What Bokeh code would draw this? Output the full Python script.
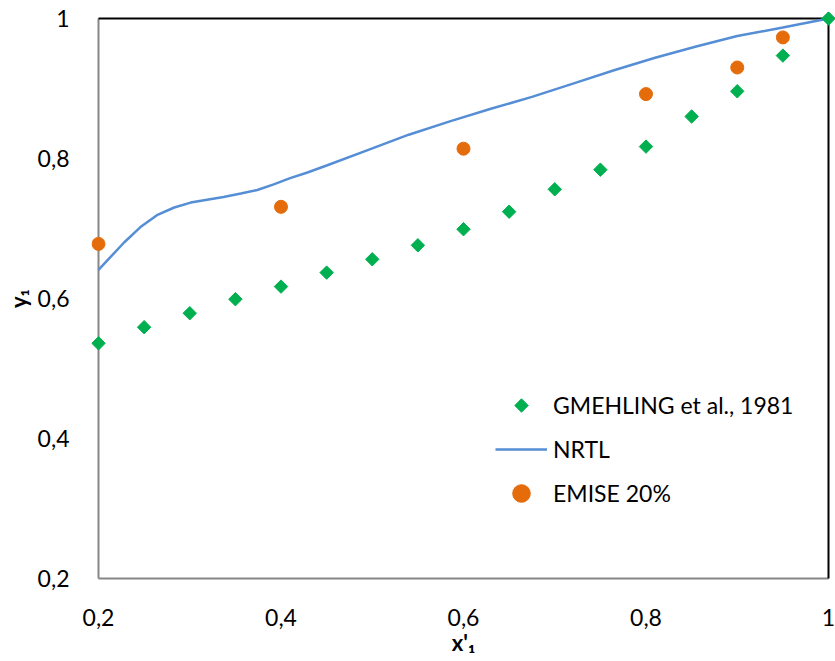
from bokeh.plotting import figure
from bokeh.models import FixedTicker, Legend, LegendItem
from bokeh.embed import file_html
from bokeh.resources import INLINE
import math

# Experimental data (GMEHLING et al., 1981)
gm_x = [0.20, 0.25, 0.30, 0.35, 0.40, 0.45, 0.50, 0.55, 0.60, 0.65,
        0.70, 0.75, 0.80, 0.85, 0.90, 0.95, 1.00]
gm_y = [0.536, 0.559, 0.579, 0.599, 0.617, 0.637, 0.656, 0.676, 0.699, 0.724,
        0.756, 0.784, 0.817, 0.860, 0.896, 0.947, 1.000]

# NRTL model curve
nrtl_x = [0.200, 0.213, 0.228, 0.246, 0.264, 0.283, 0.301, 0.319, 0.337, 0.356,
          0.374, 0.392, 0.410, 0.429, 0.450, 0.495, 0.540, 0.585, 0.630, 0.675,
          0.720, 0.765, 0.810, 0.855, 0.900, 0.950, 1.000]
nrtl_y = [0.641, 0.659, 0.680, 0.702, 0.719, 0.730, 0.737, 0.741, 0.745, 0.750,
          0.755, 0.763, 0.772, 0.780, 0.790, 0.812, 0.834, 0.853, 0.871, 0.888,
          0.907, 0.926, 0.944, 0.960, 0.975, 0.987, 1.000]

# EMISE 20 %
em_x = [0.20, 0.40, 0.60, 0.80, 0.90, 0.95]
em_y = [0.678, 0.731, 0.814, 0.892, 0.930, 0.973]

ticks = [0.2, 0.4, 0.6, 0.8, 1.0]
tick_labels = ["0,2", "0,4", "0,6", "0,8", "1"]
x_title = "x'\u2081"
y_title = "y\u2081"

FONT = "Lato"
GREEN = "#00B050"
ORANGE = "#E46C0A"
BLUE = "#558ED5"

# axis box in canvas pixels, and a small pad so edge markers are not cut
W, H = 835, 661
BOX_L, BOX_R, BOX_T, BOX_B = 98, 828, 18, 578
PAD = 7
X0, X1, Y0, Y1 = 0.2, 1.0, 0.2, 1.0
sx = (BOX_R - BOX_L) / (X1 - X0)
sy = (BOX_B - BOX_T) / (Y1 - Y0)


def to_data(px, py):
    return X0 + (px - BOX_L) / sx, Y1 - (py - BOX_T) / sy


p = figure(width=W, height=H,
           x_range=(X0 - PAD / sx, X1 + PAD / sx),
           y_range=(Y0 - PAD / sy, Y1 + PAD / sy),
           output_backend="svg", toolbar_location=None,
           min_border_left=BOX_L - PAD, min_border_right=W - BOX_R - PAD,
           min_border_top=BOX_T - PAD, min_border_bottom=H - BOX_B - PAD)
p.background_fill_color = "white"
p.border_fill_color = "white"
p.grid.visible = False
p.outline_line_color = None

for ax in (p.xaxis[0], p.yaxis[0]):
    ax.ticker = FixedTicker(ticks=ticks)
    ax.major_label_overrides = dict(zip(ticks, tick_labels))
    ax.major_tick_line_color = None
    ax.minor_tick_line_color = None
    ax.axis_line_color = None
    ax.major_label_text_font = FONT
    ax.major_label_text_font_size = "23px"
    ax.major_label_text_color = "black"
    ax.axis_label_text_font = FONT
    ax.axis_label_text_font_style = "bold"
    ax.axis_label_text_font_size = "22px"
    ax.axis_label_text_color = "black"
p.xaxis.major_label_standoff = 17
p.yaxis.major_label_standoff = 16
p.xaxis.axis_label = x_title
p.yaxis.axis_label = y_title
p.xaxis.axis_label_standoff = 0
p.yaxis.axis_label_standoff = 3

# box: grey left/bottom axes, black top/right edges
p.segment(x0=[X0, X0], y0=[Y0, Y0], x1=[X0, X1], y1=[Y1, Y0],
          line_color="#868686", line_width=2)
p.segment(x0=[X0, X1], y0=[Y1, Y1], x1=[X1, X1], y1=[Y1, Y0],
          line_color="black", line_width=2)

r_nrtl = p.line(nrtl_x, nrtl_y, line_color=BLUE, line_width=2.5)
r_gm = p.scatter(gm_x, gm_y, marker="square", angle=math.pi / 4, size=9.5,
                 fill_color=GREEN, line_color=GREEN)
r_em = p.scatter(em_x, em_y, marker="circle", size=13,
                 fill_color=ORANGE, line_color=ORANGE)

# legend (the diamond swatch is drawn separately, rotated like the data markers)
LEG_L, LEG_TOP, ROW_H, GLYPH_W = 495, 383, 44, 52
r_gm_key = p.scatter([], [], marker="square", fill_alpha=0, line_alpha=0)
legend = Legend(items=[LegendItem(label="GMEHLING et al., 1981", renderers=[r_gm_key]),
                       LegendItem(label="NRTL", renderers=[r_nrtl]),
                       LegendItem(label="EMISE 20%", renderers=[r_em])],
                location=(LEG_L - (BOX_L - PAD), (BOX_B + PAD) - (LEG_TOP + 3 * ROW_H)),
                orientation="vertical")
legend.background_fill_alpha = 0
legend.border_line_color = None
legend.padding = 0
legend.margin = 0
legend.spacing = 0
legend.glyph_width = GLYPH_W
legend.glyph_height = ROW_H
legend.label_height = ROW_H
legend.label_standoff = 6
legend.label_text_font = FONT
legend.label_text_font_size = "23px"
legend.label_text_color = "black"
p.add_layout(legend)

kx, ky = to_data(LEG_L + GLYPH_W / 2, LEG_TOP + ROW_H / 2)
p.scatter([kx], [ky], marker="square", angle=math.pi / 4, size=9.5,
          fill_color=GREEN, line_color=GREEN)

open("out.html", "w").write(file_html(p, INLINE))
